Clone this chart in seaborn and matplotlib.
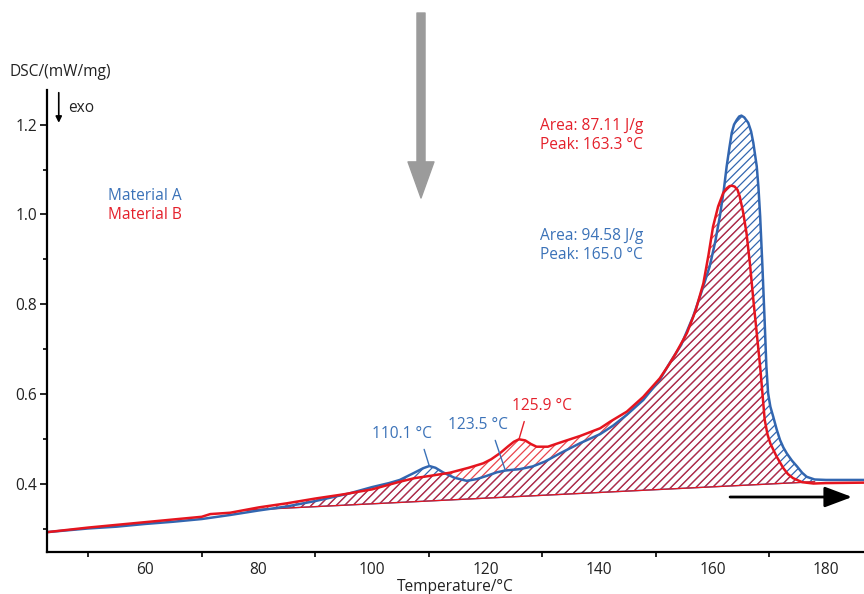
import numpy as np
import pandas as pd
import matplotlib
matplotlib.use("Agg")
import matplotlib.pyplot as plt
import seaborn as sns
from matplotlib.ticker import FixedLocator

# ---------------- data ----------------
temp_a = [42.9, 50, 55, 60, 65, 70, 75, 80, 85, 90, 96, 100, 103, 104.9, 107.3, 109, 110.1,
          111.2, 112.5, 114.5, 116.7, 118.5, 120.2, 122, 123.5, 126, 128.3, 130.5, 133.1,
          136.7, 140.2, 142.5, 144.9, 147.8, 150.7, 152.5, 154.5, 156.6, 158, 159.5, 160.5,
          161.3, 162.0, 162.5, 163.0, 163.4, 163.8, 164.3, 164.7, 165.1, 165.6, 166.3, 166.8,
          167.2, 167.8, 168.1, 168.4, 168.8, 169.2, 169.5, 169.8, 170.2, 170.7, 171.3, 171.9,
          172.5, 173.1, 174.0, 174.9, 175.8, 176.6, 178, 180, 186.7]
dsc_a = [0.293, 0.301, 0.305, 0.311, 0.316, 0.322, 0.331, 0.341, 0.350, 0.362, 0.379, 0.393,
         0.402, 0.409, 0.424, 0.435, 0.440, 0.436, 0.426, 0.414, 0.407, 0.411, 0.418, 0.426,
         0.430, 0.433, 0.439, 0.450, 0.468, 0.491, 0.511, 0.530, 0.554, 0.587, 0.632, 0.670,
         0.710, 0.773, 0.825, 0.884, 0.940, 0.996, 1.055, 1.107, 1.150, 1.182, 1.200, 1.211,
         1.218, 1.220, 1.216, 1.204, 1.185, 1.159, 1.107, 1.060, 0.996, 0.884, 0.760, 0.661,
         0.602, 0.572, 0.550, 0.522, 0.498, 0.481, 0.468, 0.452, 0.439, 0.425, 0.416, 0.410,
         0.409, 0.409]

temp_b = [42.9, 50, 55, 60, 65, 70, 71.5, 75, 80.1, 85, 90.2, 95, 100, 104.9, 107.5, 110.2,
          113.7, 117, 119.6, 121, 122.6, 124, 125.0, 125.9, 127, 128, 129.0, 131, 133.1, 136.7,
          140.2, 142.0, 144.9, 147.8, 150.7, 152.5, 153.5, 155.5, 157, 158.4, 159.3, 160.1,
          161.0, 161.9, 162.5, 163.0, 163.4, 163.9, 164.4, 164.8, 165.4, 166.0, 166.6, 167.2,
          168.4, 169.2, 169.7, 170.2, 171.3, 172.5, 173.3, 174.2, 175.8, 177.8, 180, 186.7]
dsc_b = [0.293, 0.303, 0.309, 0.315, 0.321, 0.327, 0.333, 0.336, 0.348, 0.357, 0.368, 0.377,
         0.388, 0.405, 0.413, 0.418, 0.425, 0.436, 0.446, 0.455, 0.469, 0.484, 0.494, 0.4995,
         0.497, 0.489, 0.483, 0.483, 0.492, 0.507, 0.524, 0.539, 0.561, 0.594, 0.635, 0.669,
         0.690, 0.736, 0.785, 0.847, 0.910, 0.973, 1.018, 1.048, 1.058, 1.063, 1.064, 1.062,
         1.055, 1.040, 1.005, 0.958, 0.890, 0.810, 0.661, 0.543, 0.510, 0.490, 0.461, 0.435,
         0.422, 0.413, 0.404, 0.401, 0.402, 0.403]

base_temp = [78.0, 178.0]
base_dsc = [0.342, 0.405]

series_names = ["Material A", "Material B"]
area_labels = ["Area: 94.58 J/g", "Area: 87.11 J/g"]
peak_labels = ["Peak: 165.0 °C", "Peak: 163.3 °C"]
small_peaks_a = [110.1, 123.5]
small_peaks_b = [125.9]

x_major = [60, 80, 100, 120, 140, 160, 180]
x_minor = [50, 70, 90, 110, 130, 150, 170]
y_major = [0.4, 0.6, 0.8, 1.0, 1.2]
y_minor = [0.3, 0.5, 0.7, 0.9, 1.1]

# ---------------- style ----------------
sns.set_style("ticks")
plt.rcParams["font.family"] = ["Open Sans", "DejaVu Sans"]
plt.rcParams["hatch.linewidth"] = 0.9

FS = 11.2
BLUE = "#3266b0"
RED = "#e5151f"
BLUE_T = "#3b72b8"
RED_T = "#e4202b"

fig = plt.figure(figsize=(8.64, 5.94), dpi=100)
ax = fig.add_axes([47 / 864, 42 / 594, 817 / 864, 462 / 594])

df_a = pd.DataFrame({"T": temp_a, "DSC": dsc_a})
df_b = pd.DataFrame({"T": temp_b, "DSC": dsc_b})
df_base = pd.DataFrame({"T": base_temp, "DSC": base_dsc})

# hatched integration areas
for df, col, alpha in [(df_a, BLUE, 1.0), (df_b, RED, 0.8)]:
    T = df["T"].to_numpy()
    y = df["DSC"].to_numpy()
    m = (T >= base_temp[0]) & (T <= base_temp[1])
    bt = np.interp(T[m], base_temp, base_dsc)
    ax.fill_between(T[m], bt, y[m], where=y[m] >= bt, interpolate=True,
                    facecolor="none", edgecolor=col, alpha=alpha, hatch="////", linewidth=0)

# baselines
sns.lineplot(data=df_base, x="T", y="DSC", color=BLUE, lw=1.0, ax=ax)
sns.lineplot(data=df_base, x="T", y="DSC", color=RED, lw=0.9, ax=ax)

# curves
sns.lineplot(data=df_a, x="T", y="DSC", color=BLUE, lw=1.8, ax=ax, sort=False, estimator=None)
sns.lineplot(data=df_b, x="T", y="DSC", color=RED, lw=1.8, ax=ax, sort=False, estimator=None)

ax.set_xlim(42.73, 186.7)
ax.set_ylim(0.2486, 1.277)

# axes styling
for s in ["top", "right"]:
    ax.spines[s].set_visible(False)
for s in ["left", "bottom"]:
    ax.spines[s].set_linewidth(1.6)
    ax.spines[s].set_color("black")

ax.set_xticks(x_major)
ax.set_xticklabels([str(v) for v in x_major])
ax.xaxis.set_minor_locator(FixedLocator(x_minor))
ax.set_yticks(y_major)
ax.set_yticklabels([f"{v:.1f}" for v in y_major])
ax.yaxis.set_minor_locator(FixedLocator(y_minor))
ax.tick_params(axis="x", which="major", length=0, pad=7, labelsize=FS, labelcolor="#222222")
ax.tick_params(axis="x", which="minor", length=3.5, width=1.2, direction="out", color="black")
ax.tick_params(axis="y", which="major", length=5, width=1.2, pad=2, labelsize=FS,
               labelcolor="#222222", color="black")
ax.tick_params(axis="y", which="minor", length=3, width=1.2, color="black")

ax.set_xlabel("Temperature/°C", fontsize=FS, color="#222222")
ax.xaxis.set_label_coords(0.5, -0.076)
ax.xaxis.label.set_va("center")
ax.set_ylabel("DSC/(mW/mg)", fontsize=FS, color="#222222", rotation=0, ha="left", va="center")
ax.yaxis.set_label_coords(-0.046, 1.039)

# legend-like text
ax.text(53.5, 1.041, series_names[0], color=BLUE_T, fontsize=FS, va="center", ha="left")
ax.text(53.5, 0.999, series_names[1], color=RED_T, fontsize=FS, va="center", ha="left")

# results text
ax.text(129.6, 1.197, area_labels[1], color=RED_T, fontsize=FS, va="center", ha="left")
ax.text(129.6, 1.155, peak_labels[1], color=RED_T, fontsize=FS, va="center", ha="left")
ax.text(129.6, 0.952, area_labels[0], color=BLUE_T, fontsize=FS, va="center", ha="left")
ax.text(129.6, 0.910, peak_labels[0], color=BLUE_T, fontsize=FS, va="center", ha="left")

# peak annotations with leader lines
def peak_y(T, Ts, ys):
    return ys[int(np.argmin(np.abs(np.asarray(Ts) - T)))]

ann = [
    (small_peaks_a[0], temp_a, dsc_a, (105.3, 0.511), (0.83, 0.0), BLUE_T),
    (small_peaks_a[1], temp_a, dsc_a, (118.7, 0.531), (0.745, 0.0), BLUE_T),
    (small_peaks_b[0], temp_b, dsc_b, (129.9, 0.573), (0.245, 0.0), RED_T),
]
for T, Ts, ys, xyt, rp, col in ann:
    ax.annotate(f"{T:.1f} °C", xy=(T, peak_y(T, Ts, ys)), xytext=xyt, color=col,
                fontsize=FS, ha="center", va="center",
                arrowprops=dict(arrowstyle="-", color=col, lw=1.0, relpos=rp,
                                shrinkA=3, shrinkB=0))

# exo arrow
ax.annotate("", xy=(44.8, 1.204), xytext=(44.8, 1.271),
            arrowprops=dict(arrowstyle="-|>", color="black", lw=1.2, mutation_scale=9,
                            shrinkA=0, shrinkB=0))
ax.text(46.4, 1.237, "exo", fontsize=FS, color="#222222", va="center", ha="left")

# heating direction arrow
ax.annotate("", xy=(184.6, 0.371), xytext=(163.1, 0.371),
            arrowprops=dict(arrowstyle="-|>,head_length=1.2,head_width=0.45", color="black",
                            lw=2.0, mutation_scale=14, shrinkA=0, shrinkB=0))

# grey arrow on top
ax.annotate("", xy=(421, 594 - 198), xytext=(421, 594 - 13),
            xycoords="figure pixels", textcoords="figure pixels",
            arrowprops=dict(arrowstyle="simple,head_length=2.6,head_width=1.87,tail_width=0.58",
                            color="#9b9b9b", mutation_scale=10, shrinkA=0, shrinkB=0),
            annotation_clip=False)

fig.savefig("out.png", dpi=100)
